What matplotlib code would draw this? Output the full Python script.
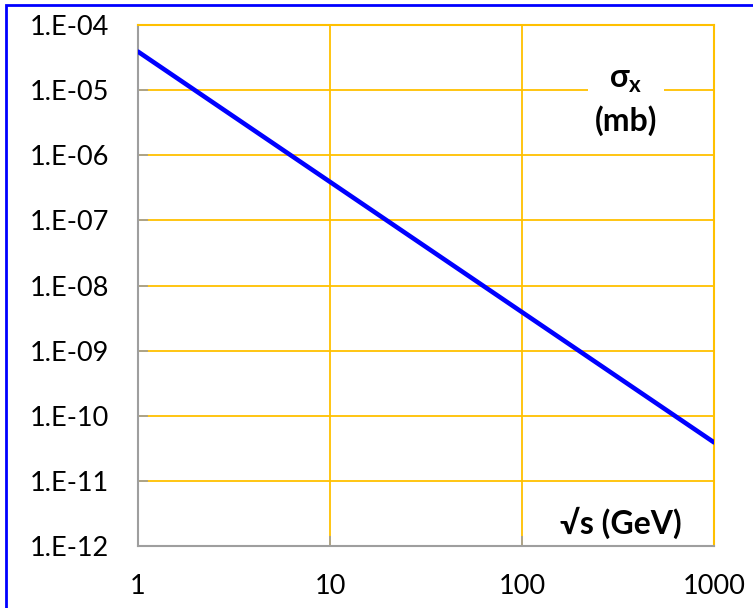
import numpy as np
import matplotlib
matplotlib.use('Agg')
import matplotlib.pyplot as plt
from matplotlib.ticker import FixedLocator, FuncFormatter, NullLocator
from matplotlib.patches import Rectangle

# ---------------------------------------------------
# datos
# ---------------------------------------------------
sqrt_s = [1, 10, 100, 1000]                     # GeV
sigma_x = [3.9e-5, 3.9e-7, 3.9e-9, 3.9e-11]     # mb
x_ticks = [1, 10, 100, 1000]
y_ticks = [1e-12, 1e-11, 1e-10, 1e-9, 1e-8, 1e-7, 1e-6, 1e-5, 1e-4]
# ---------------------------------------------------

plt.rcParams['font.family'] = ['Lato', 'DejaVu Sans']
plt.rcParams['mathtext.fontset'] = 'custom'
plt.rcParams['mathtext.bf'] = 'Lato:bold'
plt.rcParams['mathtext.rm'] = 'Lato'

GOLD = '#FFC000'
GRIS = '#9E9E9E'

fig = plt.figure(figsize=(7.53, 6.08), dpi=100)
ax = fig.add_axes([138/753, 1 - 546/608, (714 - 138)/753, (546 - 25)/608])

ax.plot(sqrt_s, sigma_x, color='#0000FF', lw=3.3, solid_capstyle='round', zorder=3)

ax.set_xscale('log')
ax.set_yscale('log')
ax.set_xlim(1, 1000)
ax.set_ylim(1e-12, 1e-4)

ax.xaxis.set_major_locator(FixedLocator(x_ticks))
ax.yaxis.set_major_locator(FixedLocator(y_ticks))
ax.xaxis.set_minor_locator(NullLocator())
ax.yaxis.set_minor_locator(NullLocator())
ax.xaxis.set_major_formatter(FuncFormatter(lambda v, p: '%d' % round(v)))
ax.yaxis.set_major_formatter(FuncFormatter(lambda v, p: '1.E%03d' % round(np.log10(v))))

ax.grid(True, color=GOLD, lw=1.3)
ax.set_axisbelow(True)
ax.tick_params(direction='in', length=7, width=1.2, color=GRIS, labelsize=19.5)
ax.tick_params(axis='y', pad=21)
ax.tick_params(axis='x', pad=20)

for s in ['left', 'bottom']:
    ax.spines[s].set_color(GRIS)
    ax.spines[s].set_linewidth(1.5)
for s in ['top', 'right']:
    ax.spines[s].set_color(GOLD)
    ax.spines[s].set_linewidth(1.5)

# etiquetas dentro del grafico
ax.text(0.847, 0.854, r'$\mathbf{\sigma_x}$' + '\n(mb)', transform=ax.transAxes,
        ha='center', va='center', fontsize=23, fontweight='bold', linespacing=1.4,
        bbox=dict(facecolor='white', edgecolor='none', pad=5), zorder=4)
ax.text(0.839, 0.044, '√s (GeV)', transform=ax.transAxes, ha='center', va='center',
        fontsize=23, fontweight='bold', zorder=4)

# borde azul
fig.patches.append(Rectangle((6/753, -0.1), 1.2, 1 - 5/608 + 0.1, transform=fig.transFigure,
                             fill=False, edgecolor='#0000FF', lw=2))

fig.savefig('out.png', dpi=100)
